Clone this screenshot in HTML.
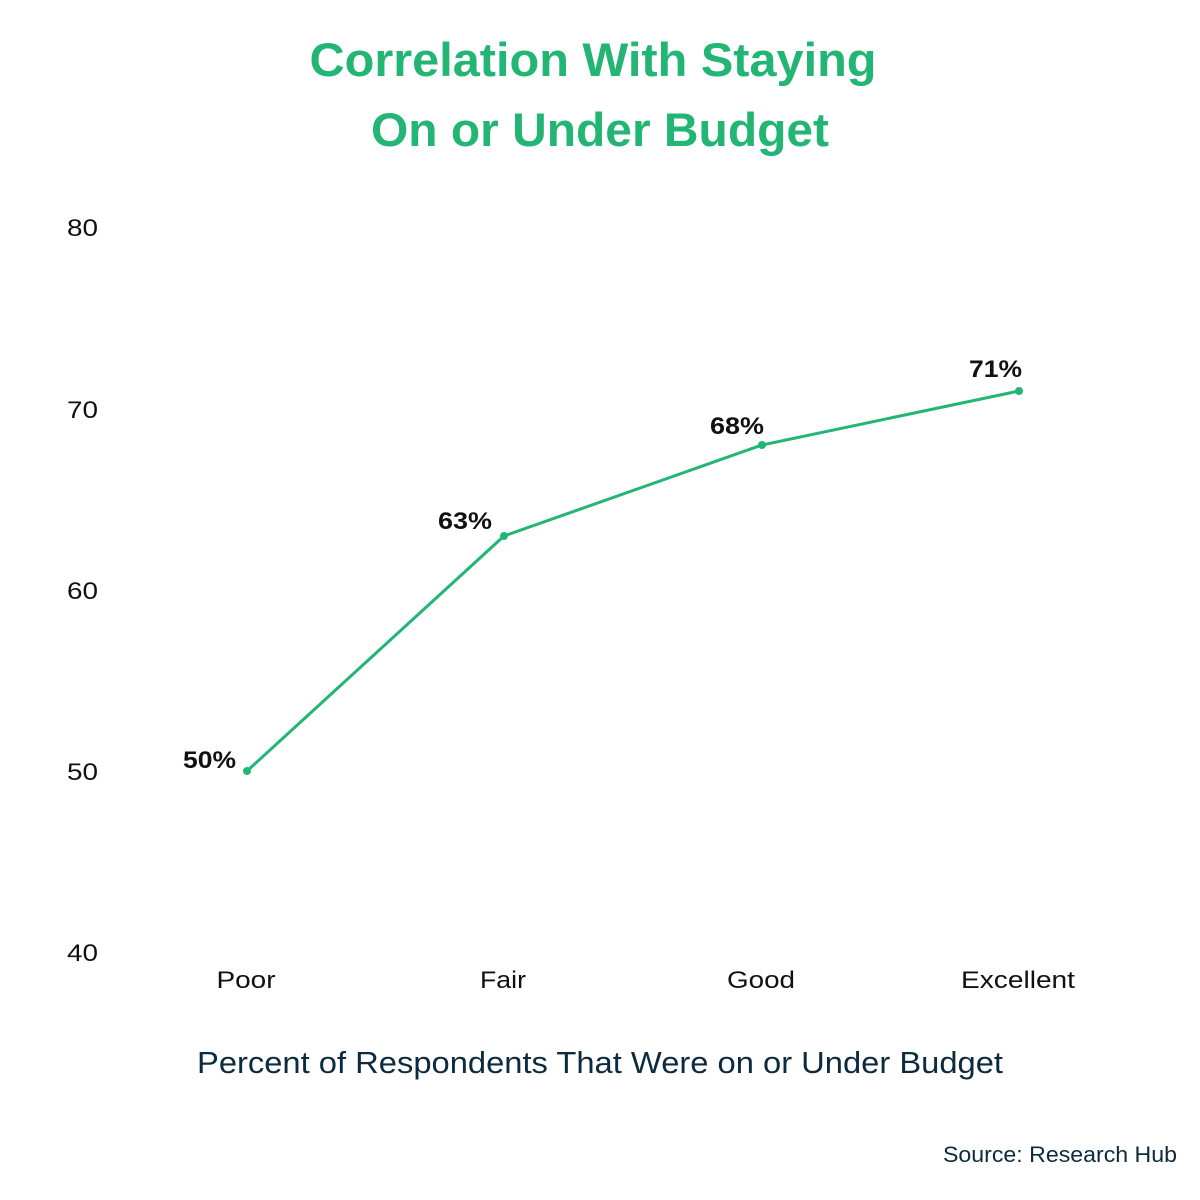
<!DOCTYPE html>
<html><head><meta charset="utf-8"><style>
html,body{margin:0;padding:0;background:#fff;}
svg{display:block;font-family:"Liberation Sans",Arial,sans-serif;}
</style></head><body>
<svg width="1200" height="1200" viewBox="0 0 1200 1200">
<text x="593" y="76" text-anchor="middle" font-size="47" font-weight="bold" fill="#22b573" textLength="567" lengthAdjust="spacingAndGlyphs">Correlation With Staying</text>
<text x="600" y="146" text-anchor="middle" font-size="47" font-weight="bold" fill="#22b573" textLength="458" lengthAdjust="spacingAndGlyphs">On or Under Budget</text>
<g font-size="24" fill="#111" text-anchor="end">
<text x="98" y="236" textLength="31" lengthAdjust="spacingAndGlyphs">80</text>
<text x="98" y="418" textLength="31" lengthAdjust="spacingAndGlyphs">70</text>
<text x="98" y="599" textLength="31" lengthAdjust="spacingAndGlyphs">60</text>
<text x="98" y="780" textLength="31" lengthAdjust="spacingAndGlyphs">50</text>
<text x="98" y="961" textLength="31" lengthAdjust="spacingAndGlyphs">40</text>
</g>
<g font-size="24" fill="#111" text-anchor="middle">
<text x="246" y="988" textLength="59" lengthAdjust="spacingAndGlyphs">Poor</text>
<text x="503" y="988" textLength="46" lengthAdjust="spacingAndGlyphs">Fair</text>
<text x="761" y="988" textLength="68" lengthAdjust="spacingAndGlyphs">Good</text>
<text x="1018" y="988" textLength="114" lengthAdjust="spacingAndGlyphs">Excellent</text>
</g>
<polyline points="247,771 504,536 762,445 1019,391" fill="none" stroke="#22b573" stroke-width="3"/>
<g fill="#22b573">
<circle cx="247" cy="771" r="4"/><circle cx="504" cy="536" r="4"/><circle cx="762" cy="445" r="4"/><circle cx="1019" cy="391" r="4"/>
</g>
<g font-size="24" font-weight="bold" fill="#111" text-anchor="end">
<text x="236" y="768" textLength="53" lengthAdjust="spacingAndGlyphs">50%</text>
<text x="492" y="529" textLength="54" lengthAdjust="spacingAndGlyphs">63%</text>
<text x="764" y="434" textLength="54" lengthAdjust="spacingAndGlyphs">68%</text>
<text x="1022" y="377" textLength="53" lengthAdjust="spacingAndGlyphs">71%</text>
</g>
<text x="600" y="1073" text-anchor="middle" font-size="31" fill="#0d2b3e" textLength="806" lengthAdjust="spacingAndGlyphs">Percent of Respondents That Were on or Under Budget</text>
<text x="1177" y="1162" text-anchor="end" font-size="22" fill="#0d2b3e" textLength="234" lengthAdjust="spacingAndGlyphs">Source: Research Hub</text>
</svg>
</body></html>
